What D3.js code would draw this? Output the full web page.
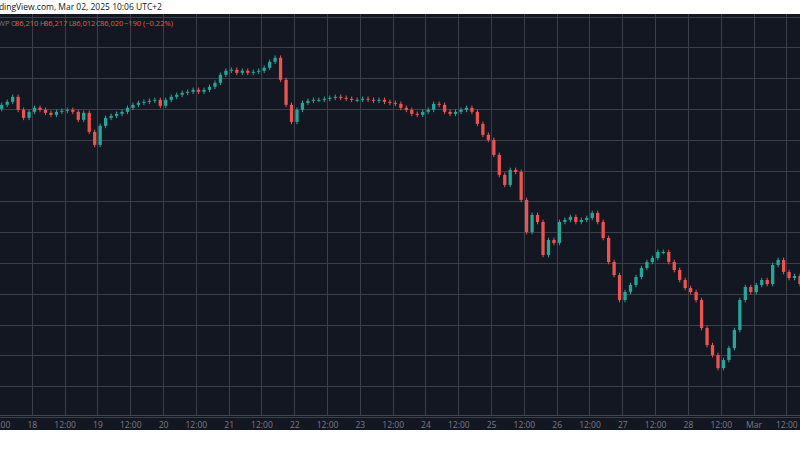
<!DOCTYPE html>
<head>
<meta charset="utf-8">
<script src="https://cdn.jsdelivr.net/npm/d3@7"></script>
<style>
  html, body { margin: 0; padding: 0; background: #fff; }
  svg { display: block; font-family: "Open Sans", "DejaVu Sans", sans-serif; }
</style>
</head>
<body>
<svg id="chart" width="800" height="450"></svg>
<script>

// 2-hour closes, BTCUSD, starting Feb 17 12:00
var startTime = Date.UTC(2025, 1, 17, 12);
var firstOpen = 96000;
var closes = [
  96270, 96465, 96790, 95945, 95425, 95815, 96075, 95945, 95750, 95620,
  95815, 95880, 95945, 95815, 95295, 95750, 94515, 93670, 94905, 95425,
  95555, 95685, 95815, 96075, 96270, 96400, 96465, 96530, 96595, 96205,
  96595, 96790, 96920, 97050, 97115, 97245, 97115, 97245, 97440, 97700,
  98220, 98480, 98545, 98350, 98480, 98350, 98415, 98480, 98675, 99065,
  99325, 97895, 96270, 95165, 95945, 96400, 96530, 96595, 96595, 96660,
  96725, 96790, 96725, 96660, 96595, 96595, 96660, 96595, 96530, 96595,
  96465, 96400, 96335, 96075, 95945, 95685, 95620, 95815, 95945, 96335,
  96270, 95815, 95685, 95815, 95945, 96075, 95815, 95035, 94320, 93995,
  93020, 91720, 91070, 92045, 91915, 90095, 88015, 89120, 88665, 86520,
  87495, 87300, 88665, 88795, 88990, 88665, 88795, 88925, 89250, 88665,
  87625, 86065, 85220, 83595, 84115, 84570, 85090, 85675, 86065, 86325,
  86715, 86715, 86065, 85545, 84895, 84375, 84115, 83595, 81775, 80670,
  80020, 79175, 79695, 80475, 81645, 83595, 84440, 84115, 84570, 84895,
  84635, 85870, 86195, 85415, 85025, 85155, 84635
];
var priceTicks = [76000, 78000, 80000, 82000, 84000, 86000, 88000, 90000, 92000, 94000, 96000, 98000, 100000, 102000];
var header = [
  {t: "WP", c: "#787b86", x: -2}, {t: "O", c: "#787b86", x: 11}, {t: "86,210", c: "#ef5350", x: 15},
  {t: "H", c: "#787b86", x: 40}, {t: "86,217", c: "#ef5350", x: 44},
  {t: "L", c: "#787b86", x: 69}, {t: "86,012", c: "#ef5350", x: 72},
  {t: "C", c: "#787b86", x: 96}, {t: "86,020", c: "#ef5350", x: 100},
  {t: "\u2212190 (\u22120.22%)", c: "#ef5350", x: 124}
];

var H2 = 2 * 3600 * 1000;
var candles = closes.map(function(c, i) {
  var o = i === 0 ? firstOpen : closes[i - 1];
  return {t: new Date(startTime + i * H2 + H2 / 2), o: o, c: c,
          h: Math.max(o, c) + 150, l: Math.min(o, c) - 150};
});

var svg = d3.select("#chart");
var plotTop = 14, plotBottom = 430, axisY = 415;

var x = d3.scaleUtc()
    .domain([new Date(startTime), new Date(startTime + 293 * 3600 * 1000)])
    .range([-1, 800]);
var y = d3.scaleLinear()
    .domain([86000, 88000])
    .range([263, 232.2]);

svg.append("rect").attr("x", 0).attr("y", plotTop).attr("width", 800)
    .attr("height", plotBottom - plotTop).attr("fill", "#131722");

var grid = svg.append("g");
var timeTicks = x.ticks(d3.utcHour.every(12));
grid.selectAll(".v").data(timeTicks).enter().append("line")
    .attr("x1", function(d) { return Math.round(x(d)) + 0.5; })
    .attr("x2", function(d) { return Math.round(x(d)) + 0.5; })
    .attr("y1", plotTop).attr("y2", axisY)
    .attr("stroke", "#3b3f4a");
grid.selectAll(".h").data(priceTicks).enter().append("line")
    .attr("x1", 0).attr("x2", 800)
    .attr("y1", function(d) { return Math.round(y(d)) + 0.5; })
    .attr("y2", function(d) { return Math.round(y(d)) + 0.5; })
    .attr("stroke", "#3b3f4a");

var bw = (x(new Date(startTime + H2)) - x(new Date(startTime))) * 0.6;
var cg = svg.append("g");
var g = cg.selectAll("g").data(candles).enter().append("g")
    .attr("fill", function(d) { return d.c >= d.o ? "#26a69a" : "#ef5350"; })
    .attr("stroke", function(d) { return d.c >= d.o ? "#26a69a" : "#ef5350"; });
g.append("line")
    .attr("x1", function(d) { return x(d.t); })
    .attr("x2", function(d) { return x(d.t); })
    .attr("y1", function(d) { return y(d.h); })
    .attr("y2", function(d) { return y(d.l); })
    .attr("stroke-width", 1);
g.append("rect")
    .attr("x", function(d) { return x(d.t) - bw / 2; })
    .attr("width", bw)
    .attr("y", function(d) { return y(Math.max(d.o, d.c)); })
    .attr("height", function(d) { return Math.max(1, Math.abs(y(d.o) - y(d.c))); })
    .attr("stroke", "none");

// time axis
svg.append("line").attr("x1", 0).attr("x2", 800)
    .attr("y1", axisY + 0.5).attr("y2", axisY + 0.5).attr("stroke", "#434651");
var xAxis = d3.axisBottom(x)
    .tickValues(timeTicks)
    .tickSize(0)
    .tickFormat(function(d) {
      if (d.getUTCHours() === 12) return "12:00";
      if (d.getUTCDate() === 1) return d3.utcFormat("%b")(d);
      return d.getUTCDate();
    });
var ax = svg.append("g").attr("transform", "translate(0," + (axisY + 4) + ")").call(xAxis);
ax.select(".domain").remove();
ax.selectAll("text").attr("fill", "#787b86").attr("font-size", 8.5)
    .attr("font-family", "\"Open Sans\", sans-serif");

// header
svg.append("text").attr("x", -14).attr("y", 10).attr("font-size", 8.5)
    .attr("fill", "#131722")
    .text("TradingView.com, Mar 02, 2025 10:06 UTC+2");
svg.append("g").selectAll("text").data(header).enter().append("text")
    .attr("x", function(d) { return d.x; })
    .attr("y", 26)
    .attr("font-size", 7.5)
    .attr("fill", function(d) { return d.c; })
    .text(function(d) { return d.t; });

</script>
</body></html>
